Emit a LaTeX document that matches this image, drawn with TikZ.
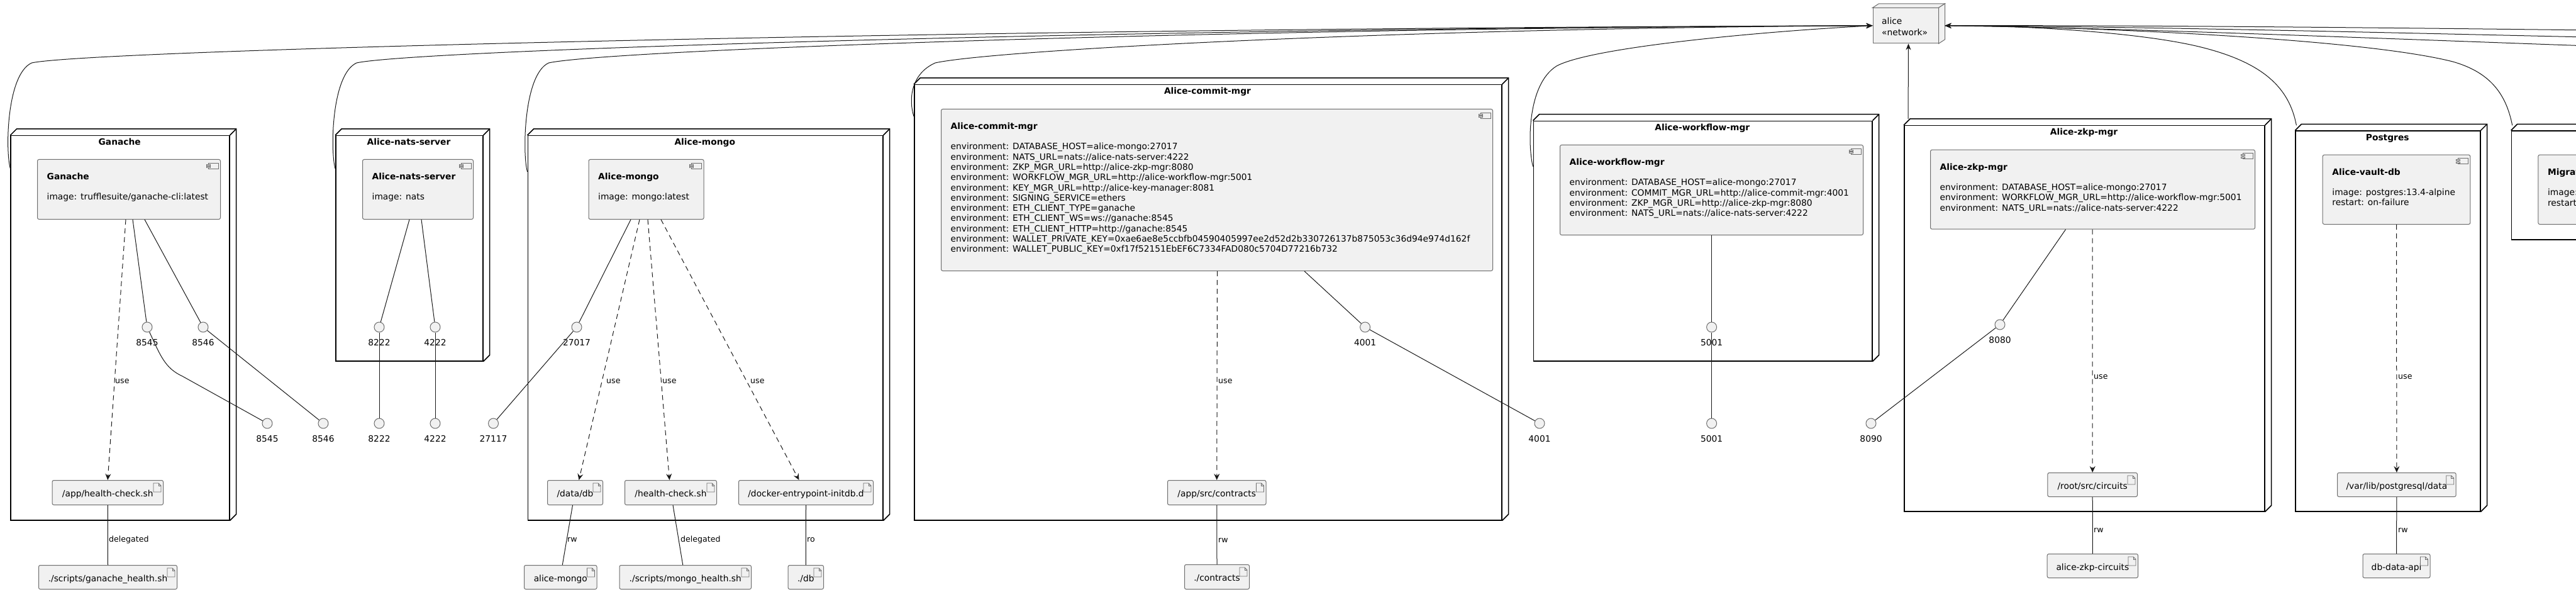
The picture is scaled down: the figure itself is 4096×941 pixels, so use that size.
\documentclass[tikz,border=0pt]{standalone}
\usepackage{fontspec}
\setmainfont{DejaVu Sans}
\usetikzlibrary{arrows.meta}
\definecolor{boxfill}{HTML}{F1F1F1}
\definecolor{boxline}{HTML}{6E6E6E}
\definecolor{lnk}{HTML}{181818}
\tikzset{
 nodebox/.style={draw=black, line width=1.5pt, anchor=north west, inner sep=0pt},
 nodeline/.style={draw=black, line width=1.5pt},
 compbox/.style={draw=boxline, fill=boxfill, line width=1pt, rounded corners=2.5pt, anchor=north west, inner sep=0pt},
 iconst/.style={draw=boxline, fill=boxfill, line width=0.8pt},
 filebox/.style={draw=boxline, fill=boxfill, line width=1pt, rounded corners=2.5pt, anchor=north west, inner sep=0pt, text height=14pt, text depth=1pt, font=\fontsize{13.8}{16}\selectfont},
 portc/.style={circle, draw=boxline, fill=boxfill, line width=1pt, minimum size=16pt, inner sep=0pt},
 portlbl/.style={anchor=base, inner sep=0pt, font=\fontsize{13.8}{16}\selectfont},
 ntitle/.style={anchor=base, inner sep=0pt, font=\bfseries\fontsize{13.8}{16}\selectfont},
 ctitle/.style={anchor=base west, inner sep=0pt, font=\bfseries\fontsize{13.8}{16}\selectfont},
 cdesc/.style={anchor=base west, inner sep=0pt, font=\fontsize{13.8}{16}\selectfont},
 lbl/.style={anchor=base west, inner sep=0pt, font=\fontsize{12.6}{15}\selectfont},
 conn/.style={draw=lnk, line width=1pt},
 usearrow/.style={conn, dash pattern=on 8pt off 6pt, -{Stealth[length=10pt,width=9pt,inset=3.5pt]}},
 netarrow/.style={conn, -{Stealth[length=10pt,width=8pt,inset=3pt]}},
}
% #1 name, #2 left, #3 top, #4 right, #5 bottom, #6 title
\newcommand{\mknode}[6]{%
  \node[nodebox, minimum width={(#4-#2)*1pt}, minimum height={(#5-#3)*1pt}] (#1) at (#2,#3) {};
  \draw[nodeline] (#1.north west) -- ++(10,-10) -- ([shift={(10,-10)}]#1.north east) -- ([shift={(10,-10)}]#1.south east) -- (#1.south east);
  \draw[nodeline] (#1.north east) -- ++(10,-10);
  \node[ntitle] (#1-t) at ({(#2+#4)/2},{#3+16}) {#6};
}
% #1 name, #2 left, #3 top, #4 right, #5 bottom, #6 title, #7 lines
\newcommand{\mkcomp}[7]{%
  \node[compbox, minimum width={(#4-#2)*1pt}, minimum height={(#5-#3)*1pt}] (#1) at (#2,#3) {};
  \draw[iconst] ([shift={(-20,6)}]#1.north east) rectangle ([shift={(-4,15)}]#1.north east);
  \draw[iconst] ([shift={(-23,8)}]#1.north east) rectangle ([shift={(-17,10)}]#1.north east);
  \draw[iconst] ([shift={(-23,11.5)}]#1.north east) rectangle ([shift={(-17,13.5)}]#1.north east);
  \node[ctitle] (#1-t) at ({#2+15.5},{#3+33}) {#6};
  \foreach \envline [count=\i] in {#7} {\node[cdesc] (#1-d\i) at ({#2+15.5},{#3+65+16.27*(\i-1)}) {\envline};}
}
% #1 name, #2 x, #3 y, #4 label
\newcommand{\mkport}[4]{%
  \node[portc] (#1) at (#2,#3) {};
  \node[portlbl] (#1-l) at (#2,{#3+29.7}) {#4};
}
% #1 name, #2 left, #3 top, #4 width, #5 height, #6 text
\newcommand{\mkfile}[6]{%
  \node[filebox, minimum width=#4pt, minimum height=#5pt] (#1) at (#2,#3) {#6\hspace{10pt}};
  \draw[iconst] ([shift={(-16,5)}]#1.north east) -- ([shift={(-8,5)}]#1.north east) -- ([shift={(-4,9)}]#1.north east) -- ([shift={(-4,19)}]#1.north east) -- ([shift={(-16,19)}]#1.north east) -- cycle;
  \draw[iconst, fill=none] ([shift={(-8,5)}]#1.north east) -- ([shift={(-8,9)}]#1.north east) -- ([shift={(-4,9)}]#1.north east);
}
\begin{document}
\begin{tikzpicture}[x=1pt,y=-1pt]
\useasboundingbox (0,0) rectangle (4096,941);
\fill[white] (0,0) rectangle (4096,941);
\clip (0,0) rectangle (4096,941);

% ---------- alice network
\node[draw=boxline, fill=boxfill, line width=1pt, anchor=north west, inner sep=0pt, minimum width=104pt, minimum height=56pt] (alice) at (2977.5,12.3) {};
\draw[iconst, line width=1pt] (alice.north west) -- ++(10,-6.5) -- ([shift={(10,-6.5)}]alice.north east) -- (alice.north east) -- cycle;
\draw[iconst, line width=1pt] (alice.north east) -- ++(10,-6.5) -- ([shift={(10,-6.5)}]alice.south east) -- (alice.south east) -- cycle;
\node[cdesc] (alice-n) at (2992,39) {alice};
\node[cdesc] (alice-s) at (2992,56.5) {«network»};

% ---------- Ganache
\mknode{gn}{16.4}{215}{364}{826}{Ganache}
\mkcomp{gc}{59}{253}{350}{348}{Ganache}{image: trufflesuite/ganache-cli:latest}
\mkport{gp1}{234}{520}{8545}
\mkport{gp2}{323}{520}{8546}
\mkfile{gf1}{82.5}{763}{176.5}{39}{/app/health-check.sh}
\mkfile{gf2}{61}{898}{220}{38}{./scripts/ganache\_health.sh}
\mkport{gq1}{425}{673}{8545}
\mkport{gq2}{514}{673}{8546}
\node[lbl] (gl1) at (183,609.5) {use};
\node[lbl] (gl2) at (173,861.5) {delegated};
\draw[conn] ([xshift=152pt]gc.south west) -- (gp1);
\draw[conn] ([xshift=171pt]gc.south west) -- (gp2);
\draw[usearrow] ([xshift=141pt]gc.south west) -- (gf1.north);
\draw[conn] (gf1.south) -- (gf2.north);
\draw[conn] (gp1) .. controls (255,565) and (262,585) .. (290,598) -- (gq1);
\draw[conn] (gp2) -- (gq2);

% ---------- Nats
\mknode{nn}{533}{215}{767}{573}{Alice-nats-server}
\mkcomp{nc}{576}{253}{752}{348}{Alice-nats-server}{image: nats}
\mkport{np1}{603}{520}{8222}
\mkport{np2}{692}{520}{4222}
\mkport{nq1}{603}{673}{8222}
\mkport{nq2}{692}{673}{4222}
\draw[conn] ([xshift=75pt]nc.south west) -- (np1);
\draw[conn] ([xshift=94pt]nc.south west) -- (np2);
\draw[conn] (np1) -- (nq1);
\draw[conn] (np2) -- (nq2);

% ---------- Mongo
\mknode{mn}{838.5}{215}{1403}{826}{Alice-mongo}
\mkcomp{mc}{935.5}{253}{1118.6}{348}{Alice-mongo}{image: mongo:latest}
\mkport{mp1}{917}{520}{27017}
\mkport{mq1}{784.5}{673}{27117}
\mkfile{mf1}{870}{763}{88}{39}{/data/db}
\mkfile{mf2}{993}{763}{146}{39}{/health-check.sh}
\mkfile{mf3}{1174}{763}{214}{39}{/docker-entrypoint-initdb.d}
\mkfile{mg1}{833}{898}{115.5}{38}{alice-mongo}
\mkfile{mg2}{984.5}{898}{209.5}{38}{./scripts/mongo\_health.sh}
\mkfile{mg3}{1252.6}{898}{56.4}{38}{./db}
\node[lbl] (ml1) at (964,609.5) {use};
\node[lbl] (ml2) at (1053,609.5) {use};
\node[lbl] (ml3) at (1193,609.5) {use};
\node[lbl] (ml4) at (902,861.5) {rw};
\node[lbl] (ml5) at (1082,861.5) {delegated};
\node[lbl] (ml6) at (1283,861.5) {ro};
\draw[conn] ([xshift=67.5pt]mc.south west) -- (mp1);
\draw[conn] (mp1) -- (mq1);
\draw[usearrow] ([xshift=81.5pt]mc.south west) -- ([xshift=6pt]mf1.north);
\draw[usearrow] ([xshift=94.5pt]mc.south west) -- ([xshift=-2pt]mf2.north);
\draw[usearrow] ([xshift=115.5pt]mc.south west) -- ([xshift=-11pt]mf3.north);
\draw[conn] ([xshift=-4pt]mf1.south) -- ([xshift=3pt]mg1.north);
\draw[conn] ([xshift=3.5pt]mf2.south) -- ([xshift=-4pt]mg2.north);
\draw[conn] (mf3.south) -- (mg3.north);

% ---------- Commit mgr
\mknode{cn}{1453}{134}{2387}{826}{Alice-commit-mgr}
\mkcomp{cc}{1496}{173}{2373}{430}{Alice-commit-mgr}{environment: DATABASE\_HOST=alice-mongo:27017, environment: NATS\_URL=nats://alice-nats-server:4222, environment: ZKP\_MGR\_URL=http://alice-zkp-mgr:8080, environment: WORKFLOW\_MGR\_URL=http://alice-workflow-mgr:5001, environment: KEY\_MGR\_URL=http://alice-key-manager:8081, environment: SIGNING\_SERVICE=ethers, environment: ETH\_CLIENT\_TYPE=ganache, environment: ETH\_CLIENT\_WS=ws://ganache:8545, environment: ETH\_CLIENT\_HTTP=http://ganache:8545, environment: WALLET\_PRIVATE\_KEY=0xae6ae8e5ccbfb04590405997ee2d52d2b330726137b875053c36d94e974d162f, environment: WALLET\_PUBLIC\_KEY=0xf17f52151EbEF6C7334FAD080c5704D77216b732}
\mkport{cp1}{2170.6}{520}{4001}
\mkport{cq1}{2448}{673}{4001}
\mkfile{cf1}{1856}{763}{156.5}{39}{/app/src/contracts}
\mkfile{cg1}{1883}{897}{103}{39}{./contracts}
\node[lbl] (cl1) at (1937,609.5) {use};
\node[lbl] (cl2) at (1937,862.5) {rw};
\draw[conn] ([xshift=578pt]cc.south west) -- (cp1);
\draw[conn] (cp1) -- (cq1);
\draw[usearrow] ([xshift=439.5pt]cc.south west) -- (cf1.north);
\draw[conn] (cf1.south) -- (cg1.north);

% ---------- Workflow mgr
\mknode{wn}{2437.5}{191.7}{2976}{573}{Alice-workflow-mgr}
\mkcomp{wc}{2480}{230}{2962}{373}{Alice-workflow-mgr}{environment: DATABASE\_HOST=alice-mongo:27017, environment: COMMIT\_MGR\_URL=http://alice-commit-mgr:4001, environment: ZKP\_MGR\_URL=http://alice-zkp-mgr:8080, environment: NATS\_URL=nats://alice-nats-server:4222}
\mkport{wp1}{2721.6}{520}{5001}
\mkport{wq1}{2721.6}{673}{5001}
\draw[conn] ([xshift=241.6pt]wc.south west) -- (wp1);
\draw[conn] (wp1) -- (wq1);

% ---------- ZKP mgr
\mknode{zn}{3027}{199}{3600}{812}{Alice-zkp-mgr}
\mkcomp{zc}{3069}{237.7}{3585}{363.7}{Alice-zkp-mgr}{environment: DATABASE\_HOST=alice-mongo:27017, environment: WORKFLOW\_MGR\_URL=http://alice-workflow-mgr:5001, environment: NATS\_URL=nats://alice-nats-server:4222}
\mkport{zp1}{3180}{516}{8080}
\mkport{zq1}{2975}{673}{8090}
\mkfile{zf1}{3255.4}{751}{142.6}{38}{/root/src/circuits}
\mkfile{zg1}{3254.7}{880}{144.3}{38}{alice-zkp-circuits}
\node[lbl] (zl1) at (3329,602.5) {use};
\node[lbl] (zl2) at (3329,846.5) {rw};
\draw[conn] ([xshift=215.5pt]zc.south west) -- (zp1);
\draw[conn] (zp1) -- (zq1);
\draw[usearrow] ([xshift=258pt]zc.south west) -- (zf1.north);
\draw[conn] (zf1.south) -- (zg1.north);

% ---------- Postgres
\mknode{pn}{3649.4}{207.3}{3943}{812}{Postgres}
\mkcomp{pc}{3692.7}{245.7}{3927.3}{356}{Alice-vault-db}{image: postgres:13.4-alpine, restart: on-failure}
\mkfile{pf1}{3716}{751}{188.7}{38}{/var/lib/postgresql/data}
\mkfile{pg1}{3756.5}{880}{107}{38}{db-data-api}
\node[lbl] (pl1) at (3813,602.5) {use};
\node[lbl] (pl2) at (3813,846.5) {rw};
\draw[usearrow] ([xshift=117.8pt]pc.south west) -- (pf1.north);
\draw[conn] (pf1.south) -- (pg1.north);

% ---------- Migration (cut by the right edge)
\node[nodebox, minimum width=400pt, minimum height=172.7pt] (mgn) at (3992.7,207.3) {};
\draw[nodeline] (mgn.north west) -- ++(10,-10) -- ([shift={(10,-10)}]mgn.north east);
\node[compbox, minimum width=400pt, minimum height=110.3pt] (mgc) at (4035.3,245.7) {};
\node[ctitle] (mgc-t) at (4050.8,278.7) {Migration};
\node[cdesc] (mgc-d1) at (4050.8,310.7) {image: migration};
\node[cdesc] (mgc-d2) at (4050.8,327) {restart: on-failure};

% ---------- network connectors
\draw[netarrow] ([yshift=-53pt]gn.north west) .. controls (8.4,240) and (10.4,118) .. (50.4,100) .. controls (140.4,80) and (1497,45) .. (alice.west);
\draw[netarrow] ([yshift=-53pt]nn.north west) .. controls (525,240) and (527,118) .. (567,100) .. controls (657,80) and (1755,45) .. (alice.west);
\draw[netarrow] ([yshift=-58pt]mn.north west) .. controls (830.5,245) and (832.5,118) .. (872.5,100) .. controls (962.5,80) and (1908,45) .. (alice.west);
\draw[netarrow] ([yshift=-51pt]cn.north west) .. controls (1445,160) and (1447,118) .. (1487,100) .. controls (1577,80) and (2215,45) .. (alice.west);
\draw[netarrow] ([yshift=-73pt]wn.north west) .. controls (2429.5,235) and (2427,135) .. (2475,105) .. controls (2530,75) and (2800,50) .. (alice.west);
\draw[netarrow] ([xshift=7pt,yshift=10pt]zn.north west) -- ([xshift=4.5pt]alice.south);
\draw[netarrow] ([xshift=2pt,yshift=8pt]pn.north west) .. controls (3640,140) and (3600,100) .. (3500,75) .. controls (3400,50) and (3200,40) .. ([xshift=10pt]alice.east);
\draw[netarrow] ([xshift=2pt,yshift=8pt]mgn.north west) .. controls (3985,150) and (3960,115) .. (3900,98) .. controls (3750,60) and (3300,42) .. ([xshift=10pt]alice.east);
\coordinate (off1) at (4200,49);
\coordinate (off2) at (4200,61);
\coordinate (off3) at (4200,76);
\draw[netarrow] (off1) .. controls (3800,44) and (3400,40) .. ([xshift=10pt]alice.east);
\draw[netarrow] (off2) .. controls (3800,52) and (3400,42) .. ([xshift=10pt]alice.east);
\draw[netarrow] (off3) .. controls (3800,62) and (3400,45) .. ([xshift=10pt]alice.east);
\end{tikzpicture}
\end{document}
